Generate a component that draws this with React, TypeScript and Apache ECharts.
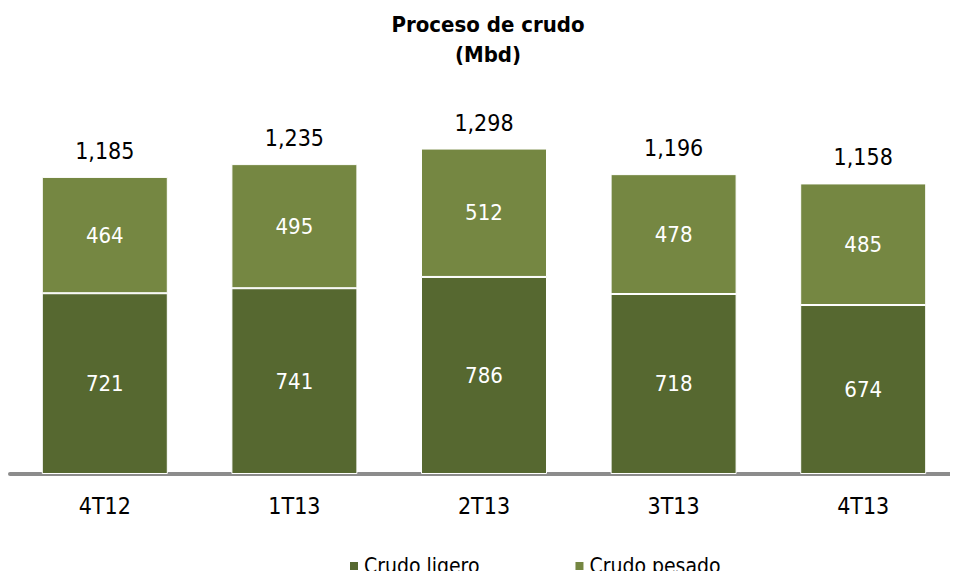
import React, { useEffect, useRef } from "react";
import * as echarts from "echarts";

const categories = ["4T12", "1T13", "2T13", "3T13", "4T13"];
const crudoLigero = [721, 741, 786, 718, 674];
const crudoPesado = [464, 495, 512, 478, 485];
const totalLabels = ["1,185", "1,235", "1,298", "1,196", "1,158"];

const FONT = "'DejaVu Sans Condensed', 'DejaVu Sans', sans-serif";
const DARK = "#566830";
const LIGHT = "#758742";

export default function App() {
  const ref = useRef<HTMLDivElement>(null);
  useEffect(() => {
    if (!ref.current) return;
    const chart = echarts.init(ref.current, undefined, { renderer: "svg" });
    chart.setOption({
      animation: false,
      textStyle: { fontFamily: FONT },
      title: {
        text: "Proceso de crudo\n(Mbd)",
        left: 483,
        textAlign: "center",
        top: 4,
        textStyle: {
          fontFamily: FONT,
          fontWeight: "bold",
          fontSize: 22,
          lineHeight: 30,
          color: "#000",
        },
      },
      legend: {
        data: ["Crudo ligero", "Crudo pesado"],
        left: 343,
        top: 549,
        icon: "rect",
        itemWidth: 10,
        itemHeight: 10,
        itemGap: 94,
        textStyle: { fontFamily: FONT, fontSize: 21, lineHeight: 24, color: "#000" },
      },
      grid: { left: 10, width: 961, top: 123, height: 351, containLabel: false },
      xAxis: {
        type: "category",
        data: categories,
        offset: 2,
        axisLine: { show: true, lineStyle: { color: "#8c8c8c", width: 4 } },
        axisTick: { show: false },
        axisLabel: {
          fontFamily: FONT,
          fontSize: 23,
          lineHeight: 24,
          color: "#000",
          margin: 18,
        },
      },
      yAxis: {
        type: "value",
        min: 0,
        max: 1400,
        show: false,
        splitLine: { show: false },
      },
      series: [
        {
          name: "Crudo ligero",
          type: "bar",
          stack: "total",
          barWidth: 126,
          data: crudoLigero,
          itemStyle: { color: DARK, borderColor: "#ffffff", borderWidth: 1 },
          label: {
            show: true,
            position: "inside",
            color: "#fff",
            fontFamily: FONT,
            fontSize: 22,
          },
        },
        {
          name: "Crudo pesado",
          type: "bar",
          stack: "total",
          barWidth: 126,
          data: crudoPesado,
          itemStyle: { color: LIGHT, borderColor: "#ffffff", borderWidth: 1 },
          label: {
            show: true,
            position: "inside",
            color: "#fff",
            fontFamily: FONT,
            fontSize: 22,
          },
        },
        {
          name: "Total",
          type: "bar",
          stack: "total",
          barWidth: 126,
          data: categories.map(() => 0),
          itemStyle: { color: "transparent" },
          label: {
            show: true,
            position: "top",
            distance: 14,
            color: "#000",
            fontFamily: FONT,
            fontSize: 23,
            lineHeight: 24,
            formatter: (p: any) => totalLabels[p.dataIndex],
          },
        },
      ],
    });
    return () => chart.dispose();
  }, []);
  return <div ref={ref} style={{ width: 958, height: 579, margin: -8 }} />;
}
